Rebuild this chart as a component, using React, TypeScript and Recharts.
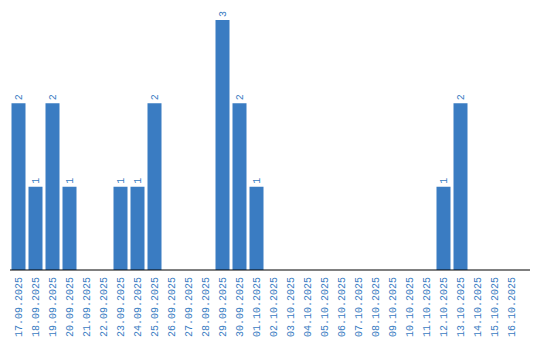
import React from 'react';
import { BarChart, Bar, XAxis, YAxis, LabelList } from 'recharts';

const dates = [
  '17.09.2025', '18.09.2025', '19.09.2025', '20.09.2025', '21.09.2025', '22.09.2025',
  '23.09.2025', '24.09.2025', '25.09.2025', '26.09.2025', '27.09.2025', '28.09.2025',
  '29.09.2025', '30.09.2025', '01.10.2025', '02.10.2025', '03.10.2025', '04.10.2025',
  '05.10.2025', '06.10.2025', '07.10.2025', '08.10.2025', '09.10.2025', '10.10.2025',
  '11.10.2025', '12.10.2025', '13.10.2025', '14.10.2025', '15.10.2025', '16.10.2025',
];
const counts = [2, 1, 2, 1, 0, 0, 1, 1, 2, 0, 0, 0, 3, 2, 1, 0, 0, 0, 0, 0, 0, 0, 0, 0, 0, 1, 2, 0, 0, 0];

const data = dates.map((d, i) => ({ date: d, count: counts[i] }));

const BLUE = '#3a7cc2';
const FONT = '"Liberation Mono", monospace';

const Tick = (props: any) => {
  const { x, payload } = props;
  const ty = 277;
  return (
    <text
      x={x}
      y={ty}
      transform={`rotate(-90, ${x}, ${ty})`}
      textAnchor="end"
      fill={BLUE}
      fontSize={10}
      fontFamily={FONT}
      dy="0.3em"
    >
      {payload.value}
    </text>
  );
};

const ValueLabel = (props: any) => {
  const { x, y, width, value } = props;
  if (!value) return null;
  const cx = x + width / 2;
  const ty = y - 3;
  return (
    <text
      x={cx}
      y={ty}
      transform={`rotate(-90, ${cx}, ${ty})`}
      textAnchor="start"
      fill={BLUE}
      fontSize={10}
      fontFamily={FONT}
      dy="0.35em"
    >
      {value}
    </text>
  );
};

export default function App() {
  return (
    <div style={{ position: 'absolute', left: 0, top: 0 }}>
      <BarChart
        width={540}
        height={340}
        data={data}
        margin={{ top: 10, right: 10, bottom: 0, left: 10 }}
        barCategoryGap={1.5}
      >
        <XAxis
          dataKey="date"
          interval={0}
          height={70}
          tick={<Tick />}
          tickLine={false}
          axisLine={{ stroke: '#000' }}
          padding={{ left: 0, right: 10 }}
        />
        <YAxis
          width={0}
          domain={[0, 3.12]}
          tick={false}
          tickLine={false}
          axisLine={{ stroke: '#000' }}
        />
        <Bar dataKey="count" fill={BLUE} isAnimationActive={false}>
          <LabelList dataKey="count" content={<ValueLabel />} />
        </Bar>
      </BarChart>
    </div>
  );
}
